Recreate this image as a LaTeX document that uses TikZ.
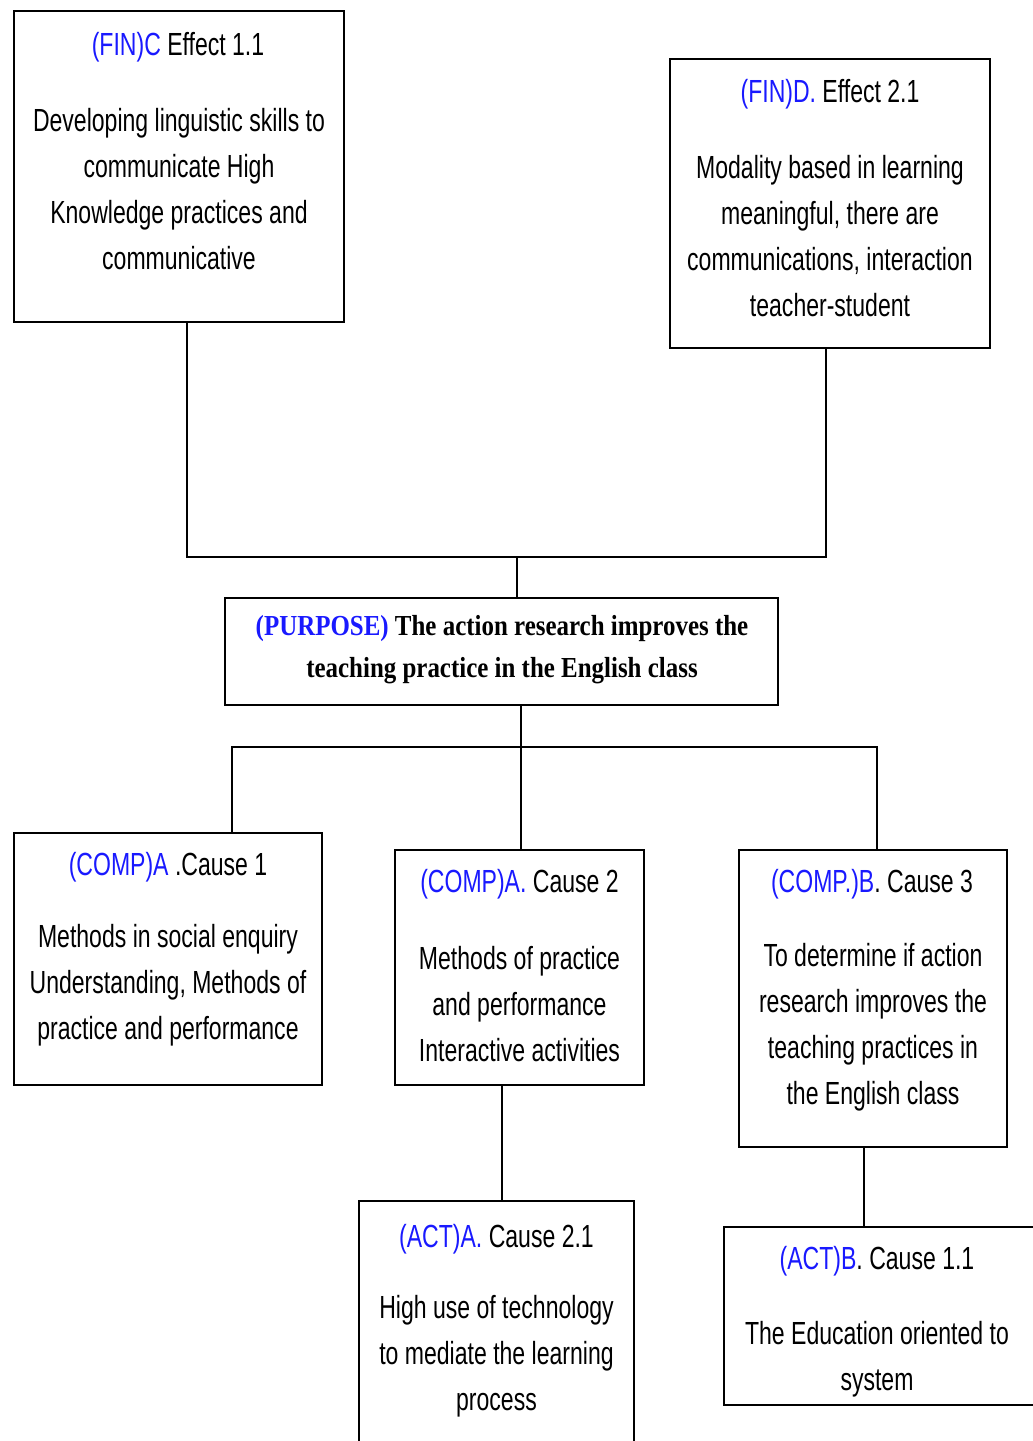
\documentclass[tikz,border=0pt]{standalone}
\usepackage{fontspec}
\setmainfont{Liberation Sans}[FakeStretch=0.72]
\newfontfamily\purposefont{Liberation Serif}[FakeStretch=0.86]
\usepackage{tikz}
\usetikzlibrary{
    shapes
  , calc
  , positioning
}
\definecolor{tagblue}{RGB}{25,25,255}
\newcommand{\tagtxt}[1]{\textcolor{tagblue}{#1}}

\begin{document}
\begin{tikzpicture}[x=1pt, y=-1pt,
    box/.style={draw, line width=2pt, rectangle, inner sep=0pt},
    title/.style={font=\fontsize{32}{46}\selectfont},
    body/.style={align=center, font=\fontsize{32}{46}\selectfont},
    link/.style={line width=2pt}]
  \useasboundingbox (0,0) rectangle (1033,1441);
  \clip (0,0) rectangle (1033,1441);
  % Effects
  \node[box, minimum width=330, minimum height=311] (fincbox) at (179,166.5) {};
  \node[title] (finctitle) at (178,47) {\tagtxt{(FIN)C} Effect 1.1};
  \node[body] (fincbody) at (179,189) {Developing linguistic skills to\\communicate High\\Knowledge practices and\\communicative};
  \node[box, minimum width=320, minimum height=289] (findbox) at (830,203.5) {};
  \node[title] (findtitle) at (830,94) {\tagtxt{(FIN)D.} Effect 2.1};
  \node[body] (findbody) at (830,236) {Modality based in learning\\meaningful, there are\\communications, interaction\\teacher-student};
  % Purpose
  \node[box, minimum width=553, minimum height=107] (purposebox) at (501.5,651.5) {};
  \node[align=center, font=\purposefont\bfseries\fontsize{29}{42}\selectfont] (purpose) at (502,650)
    {\tagtxt{(PURPOSE)} The action research improves the\\teaching practice in the English class};
  % Causes
  \node[box, minimum width=308, minimum height=252] (causeabox) at (168,959) {};
  \node[title] (causeatitle) at (168,867) {\tagtxt{(COMP)A} .Cause 1};
  \node[body] (causeabody) at (168,985) {Methods in social enquiry\\Understanding, Methods of\\practice and performance};
  \node[box, minimum width=249, minimum height=235] (causebbox) at (519.5,967.5) {};
  \node[title] (causebtitle) at (519.5,884) {\tagtxt{(COMP)A.} Cause 2};
  \node[body] (causebbody) at (519.5,1004.5) {Methods of practice\\and performance\\Interactive activities};
  \node[box, minimum width=268, minimum height=297] (causecbox) at (873,998.5) {};
  \node[title] (causectitle) at (872,884) {\tagtxt{(COMP.)B}. Cause 3};
  \node[body] (causecbody) at (873,1027.5) {To determine if action\\research improves the\\teaching practices in\\the English class};
  % Actions
  \node[box, minimum width=275, minimum height=269] (actabox) at (496.5,1335.5) {};
  \node[title] (actatitle) at (496.5,1239) {\tagtxt{(ACT)A.} Cause 2.1};
  \node[body] (actabody) at (496.5,1356.5) {High use of technology\\to mediate the learning\\process};
  \node[box, minimum width=321, minimum height=178] (actbbox) at (884.5,1316) {};
  \node[title] (actbtitle) at (877,1261) {\tagtxt{(ACT)B}. Cause 1.1};
  \node[body] (actbbody) at (877,1359) {The Education oriented to\\system};
  % Connectors
  \coordinate (upjoin) at (517,557);
  \coordinate (downjoin) at (521,747);
  \draw[link] ([xshift=8pt]fincbox.south) |- (upjoin) -| ([xshift=-4pt]findbox.south);
  \draw[link] (upjoin) -- (upjoin |- purposebox.north);
  \draw[link] (downjoin |- purposebox.south) -- (downjoin);
  \draw[link] ([xshift=64pt]causeabox.north) |- (downjoin) -| ([xshift=4pt]causecbox.north);
  \draw[link] (downjoin) -- (downjoin |- causebbox.north);
  \draw[link] ([xshift=-17.5pt]causebbox.south) -- ([xshift=5.5pt]actabox.north);
  \draw[link] ([xshift=-9pt]causecbox.south) -- ([xshift=-20.5pt]actbbox.north);
\end{tikzpicture}
\end{document}
